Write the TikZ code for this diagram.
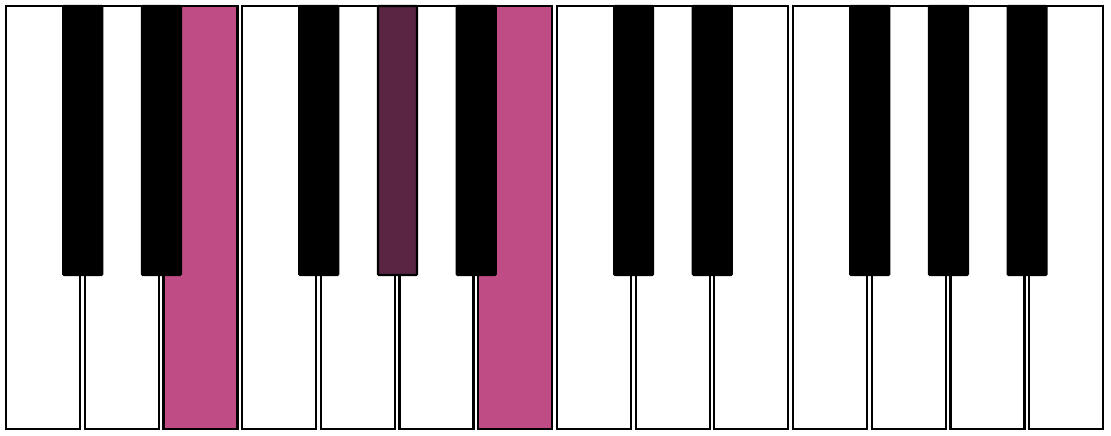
\documentclass[tikz,border=0pt]{standalone}
\definecolor{keypink}{RGB}{192,76,134}
\definecolor{keyplum}{RGB}{89,37,67}
\tikzset{
  whitekey/.style={draw=black, line width=2.2pt, fill=white},
  blackkey/.style={draw=black, line width=2.2pt, fill=black, rounded corners=1pt},
}
\begin{document}
\begin{tikzpicture}[x=1pt,y=-1pt]
\useasboundingbox (0,0) rectangle (1111,436);
% white keys
\foreach \i in {0,...,13}{
  \pgfmathsetmacro{\xl}{6+78.7*\i}
  \pgfmathsetmacro{\xr}{\xl+74}
  \def\fc{white}
  \ifnum\i=2 \def\fc{keypink}\fi
  \ifnum\i=6 \def\fc{keypink}\fi
  \draw[whitekey, fill=\fc] (\xl,6) rectangle (\xr,429);
}
% black keys (centred on boundaries after white key index)
\foreach \b in {1,2,4,5,6,8,9,11,12,13}{
  \pgfmathsetmacro{\xc}{6+78.7*\b-2}
  \def\fc{black}
  \ifnum\b=5 \def\fc{keyplum}\fi
  \draw[blackkey, fill=\fc] (\xc-19.5,6) rectangle (\xc+19.5,275);
}
\end{tikzpicture}
\end{document}
